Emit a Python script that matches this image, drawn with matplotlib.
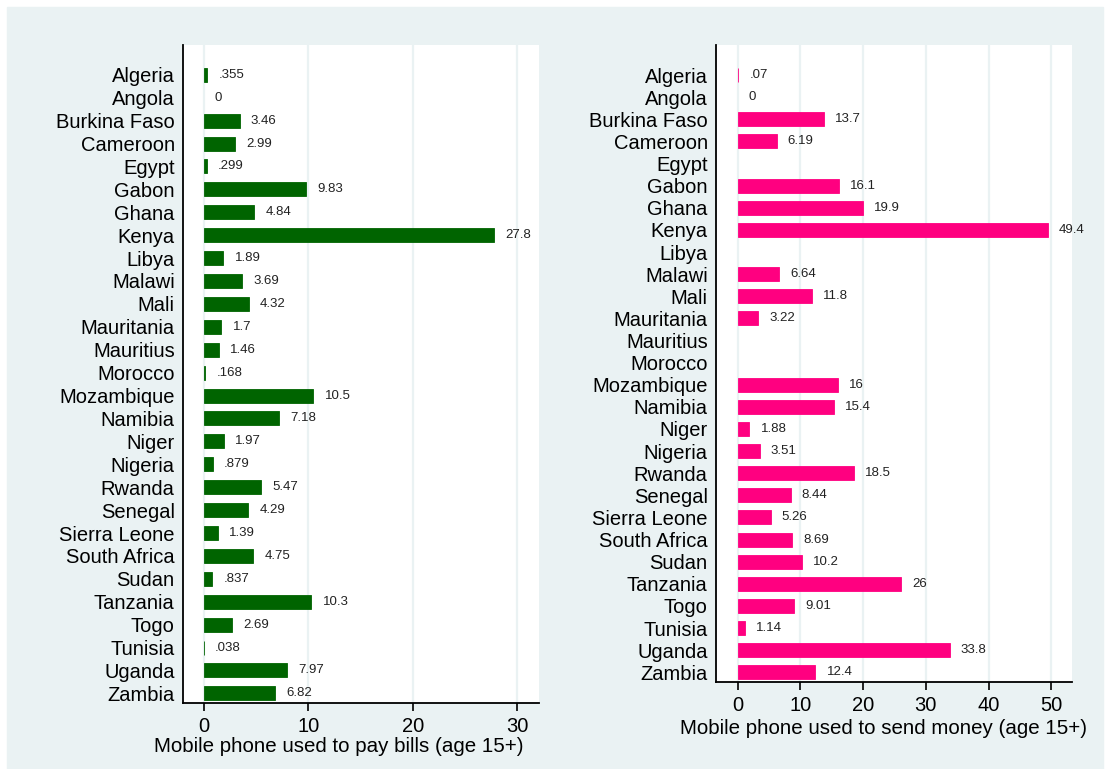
"""Mobile phone usage for bills and remittances across African countries."""

import numpy as np
import matplotlib
matplotlib.use("Agg")
import matplotlib.pyplot as plt
from matplotlib.patches import Rectangle

countries = [
    "Algeria", "Angola", "Burkina Faso", "Cameroon", "Egypt", "Gabon", "Ghana",
    "Kenya", "Libya", "Malawi", "Mali", "Mauritania", "Mauritius", "Morocco",
    "Mozambique", "Namibia", "Niger", "Nigeria", "Rwanda", "Senegal",
    "Sierra Leone", "South Africa", "Sudan", "Tanzania", "Togo", "Tunisia",
    "Uganda", "Zambia",
]
pay_bills = [
    0.355, 0, 3.46, 2.99, 0.299, 9.83, 4.84, 27.8, 1.89, 3.69, 4.32, 1.7, 1.46,
    0.168, 10.5, 7.18, 1.97, 0.879, 5.47, 4.29, 1.39, 4.75, 0.837, 10.3, 2.69,
    0.038, 7.97, 6.82,
]
nan = float("nan")
send_money = [
    0.07, 0, 13.7, 6.19, nan, 16.1, 19.9, 49.4, nan, 6.64, 11.8, 3.22, nan,
    nan, 16, 15.4, 1.88, 3.51, 18.5, 8.44, 5.26, 8.69, 10.2, 26, 9.01, 1.14,
    33.8, 12.4,
]
bills_ticks = [0, 10, 20, 30]
money_ticks = [0, 10, 20, 30, 40, 50]

BG = "#EAF2F3"
W, H = 1105, 769

plt.rcParams["font.family"] = ["Liberation Sans", "DejaVu Sans"]


def fmt(v):
    s = f"{v:.3g}"
    if s.startswith("0."):
        s = s[1:]
    return s


def px_axes(fig, left, top, right, bottom):
    return fig.add_axes([left / W, 1 - bottom / H, (right - left) / W, (bottom - top) / H])


def draw_panel(ax, values, color, ticks, xlim, ylim, bar_h):
    y = np.arange(len(countries))
    vals = np.array(values, dtype=float)
    ok = ~np.isnan(vals) & (vals > 0)
    # thin outline keeps the tiny values visible
    ax.barh(y[ok], vals[ok], height=bar_h, color=color, edgecolor=color,
            linewidth=0.6, zorder=3)
    for yi, v in zip(y, vals):
        if np.isnan(v):
            continue
        ax.annotate(fmt(v), (v, yi), xytext=(8, 0), textcoords="offset points",
                    va="center", ha="left", fontsize=9.5, color="#222222")
    ax.set_yticks(y)
    ax.set_yticklabels(countries, fontsize=14.5)
    ax.set_xticks(ticks)
    ax.set_xticklabels([str(t) for t in ticks], fontsize=14.5)
    ax.set_xlim(*xlim)
    ax.set_ylim(*ylim)
    ax.tick_params(axis="y", length=0, pad=6)
    ax.tick_params(axis="x", length=6, width=1.2, pad=4, direction="out")
    ax.grid(True, axis="x", color=BG, linewidth=1.6, zorder=0)
    ax.set_axisbelow(True)
    for side in ("top", "right"):
        ax.spines[side].set_visible(False)
    for side in ("left", "bottom"):
        ax.spines[side].set_linewidth(1.3)
        ax.spines[side].set_color("black")
    ax.set_facecolor("white")


fig = plt.figure(figsize=(W / 100, H / 100), dpi=100)
fig.patches.append(Rectangle((7 / W, 0), (W - 9) / W, (H - 7) / H,
                             transform=fig.transFigure, color=BG, zorder=-10))

ax1 = px_axes(fig, 183, 45, 539, 703)
draw_panel(ax1, pay_bills, "#006400", bills_ticks, (-1.97, 32.06), (27.42, -1.30), 0.61)
fig.text(339 / W, 1 - 746 / H, "Mobile phone used to pay bills (age 15+)",
         ha="center", va="center", fontsize=14.8)

ax2 = px_axes(fig, 716, 45, 1072, 682)
draw_panel(ax2, send_money, "#FF0080", money_ticks, (-3.46, 53.3), (27.44, -1.36), 0.63)
fig.text(884 / W, 1 - 729 / H, "Mobile phone used to send money (age 15+)",
         ha="center", va="center", fontsize=14.8)

fig.savefig("out.png", dpi=100, facecolor="white")
